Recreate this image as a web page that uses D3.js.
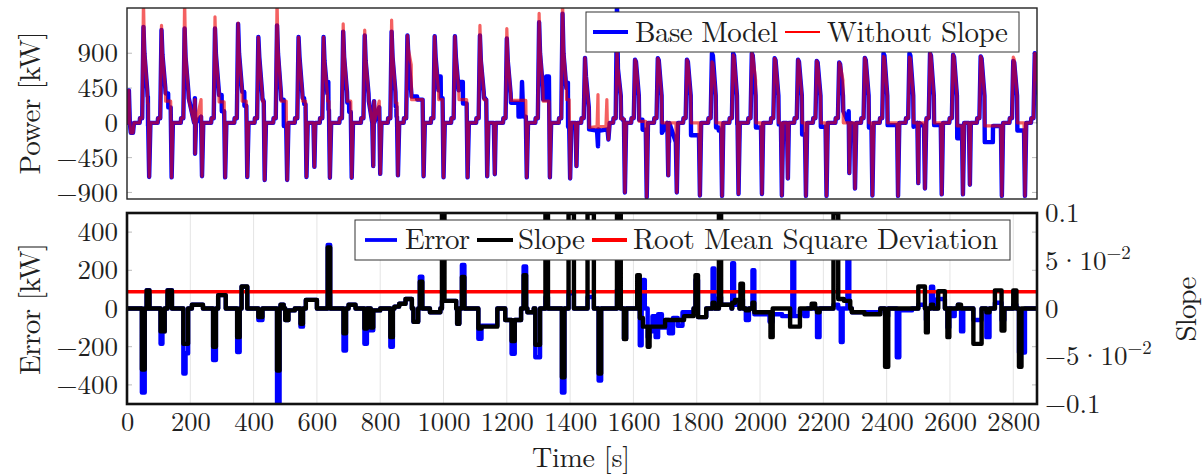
<!DOCTYPE html>
<html><head><meta charset="utf-8">
<script src="https://cdn.jsdelivr.net/npm/d3@7"></script>
<style>
body{margin:0;background:#fff}
svg{display:block}
text{font-family:"Latin Modern Roman","Liberation Serif",serif;fill:#1f1f1f}
</style>
</head><body>
<svg id="c" width="1203" height="474"></svg>
<script>
// ---------- data ----------
const timeTicks = [0,200,400,600,800,1000,1200,1400,1600,1800,2000,2200,2400,2600,2800];
const powerTicks = [-900,-450,0,450,900];
const errorTicks = [-400,-200,0,200,400];
const slopeTicks = [-0.1,-0.05,0,0.05,0.1];
// mantissa, base, exponent of each slope tick label
const slopeTickMantissa = ["\u22120.1","\u22125","0","5","0.1"];
const slopeTickBase = ["","10","","10",""];
const slopeTickExponent = ["","\u22122","","\u22122",""];

// one entry per drive cycle of the power trace
const peakTime = [52,109,182,278,351,415,474,542,621,683,751,836,886,972,1036,1115,1200,1302,1376,1447,1548,1605,1677,1769,1848,1915,1974,2046,2120,2179,2250,2331,2390,2472,2537,2610,2697,2800,2868];
const peakBase = [1240,1200,1220,1220,1280,1110,1260,1110,1110,1180,1130,1180,1130,1120,1120,1130,1090,1300,1410,840,1560,815,835,815,900,900,900,835,815,800,780,840,900,900,900,880,860,800,900];
const peakNoSlope = [1600,1260,1600,1370,1290,1110,1600,1110,1110,1280,1200,1330,1130,1120,1120,1260,1220,1415,1600,840,940,815,835,815,790,880,900,835,815,800,780,840,860,850,900,880,860,850,900];
const shoulderBase = [900,880,850,880,900,850,900,850,800,850,800,850,850,850,850,800,800,900,900,600,700,790,810,790,870,870,870,810,790,780,760,810,870,870,870,850,830,780,870];
const shoulderNoSlope = [950,900,900,900,900,850,950,850,800,900,850,900,950,850,850,850,850,950,950,600,700,790,810,790,770,850,870,810,790,780,760,810,840,830,870,850,830,820,870];
const tailBase = [420,450,400,420,450,380,400,380,380,400,380,400,400,420,420,400,380,450,450,200,350,350,350,350,350,350,350,350,350,350,350,350,350,350,350,350,350,350,350];
const tailNoSlope = [420,450,400,420,450,380,400,380,380,400,380,400,750,420,420,400,380,450,450,200,350,350,350,350,350,350,550,350,350,350,550,350,350,350,350,350,350,350,350];
const plateauBaseA = [340,380,320,360,400,300,300,320,530,260,280,210,340,600,530,320,260,300,520,-85,60,40,-130,-160,-60,-20,-60,-20,-150,-50,150,-60,-30,-50,-30,-200,-250,-100,0];
const plateauBaseB = [-40,200,80,150,220,280,-40,240,170,140,200,80,300,320,250,300,80,600,-50,-85,40,-90,-250,-160,-100,-20,-60,-20,-150,-50,-20,-60,-30,-50,-30,-40,-40,-100,0];
const plateauNoSlope = [250,280,300,270,280,280,280,280,280,280,280,260,300,300,300,300,290,280,300,-60,50,20,0,0,0,0,0,0,0,0,0,0,0,0,0,-40,-40,0,0];
const troughTime = [70,141,237,310,380,435,506,567,641,710,800,856,937,1000,1076,1138,1263,1336,1400,1521,1573,1642,1737,1810,1880,1932,2006,2069,2145,2210,2300,2355,2436,2521,2574,2641,2764,2837,2890];
const troughPower = [-700,-705,-690,-705,-700,-740,-740,-700,-710,-710,-660,-680,-690,-705,-705,-690,-705,-705,-720,-215,-900,-960,-900,-940,-945,-920,-920,-940,-945,-945,-850,-940,-945,-850,-925,-925,-945,-945,-900];
const preStepPower = 60;
const secondTroughTime = [215,592,778,1162,1420,1710,2088,2282,2500,2663];
const secondTroughPower = [-400,-570,-560,-665,-560,-680,-720,-650,-780,-800];
const extraBase = [[0,300],[3,0],[6,420],[9,0],[12,-130],[19,-130],[22,0],[1245,80],[1248,530],[1252,80],[1485,-100],[1488,-305],[1494,-100]];
const extraNoSlope = [[0,300],[3,0],[6,420],[9,0],[12,-130],[19,-130],[22,0],[1485,-50],[1488,365],[1492,-50],[1513,-50],[1516,300],[1519,-50]];

// error [kW] and slope, as steps [time, value]
const errorSteps = [[0,0],[47,-440],[56,0],[62,96],[71,0],[106,-185],[112,-120],[119,0],[128,96],[142,0],[178,-340],[185,-235],[193,0],[205,20],[240,0],[272,-270],[281,0],[288,70],[312,0],[348,-228],[356,0],[362,114],[380,0],[415,-60],[428,0],[474,-520],[482,0],[485,20],[495,0],[500,-60],[510,-10],[530,0],[548,-95],[556,0],[565,45],[600,0],[634,333],[642,0],[684,-220],[692,0],[700,20],[722,0],[750,-185],[758,0],[770,-114],[778,-10],[800,0],[832,-200],[840,0],[845,10],[860,25],[880,50],[900,0],[905,-70],[920,0],[925,167],[933,0],[957,-20],[990,0],[995,40],[1040,0],[1043,-80],[1050,0],[1058,228],[1066,0],[1110,-158],[1120,-90],[1170,0],[1195,-60],[1215,-237],[1225,-60],[1245,0],[1253,220],[1261,0],[1265,-20],[1285,0],[1290,-255],[1305,0],[1322,60],[1330,0],[1374,-440],[1382,0],[1395,80],[1412,0],[1455,60],[1475,0],[1490,-377],[1498,0],[1548,100],[1560,0],[1570,-158],[1577,0],[1612,100],[1620,-193],[1626,0],[1630,150],[1636,0],[1645,-150],[1651,-120],[1660,-40],[1670,-150],[1678,-30],[1690,-100],[1700,-60],[1712,-130],[1725,-50],[1740,-90],[1755,-20],[1790,0],[1796,150],[1804,-45],[1830,0],[1850,210],[1856,0],[1870,60],[1877,20],[1910,0],[1912,237],[1918,20],[1935,0],[1938,50],[1946,0],[1955,-60],[1965,0],[1976,200],[1982,-30],[2030,-70],[2040,-30],[2070,-40],[2102,260],[2108,-40],[2126,-10],[2140,-40],[2150,0],[2180,-150],[2188,0],[2232,20],[2247,0],[2255,-175],[2261,0],[2276,260],[2282,0],[2290,-20],[2380,0],[2395,-40],[2405,0],[2432,-255],[2440,-10],[2480,0],[2500,20],[2521,0],[2524,-60],[2530,0],[2540,114],[2547,0],[2560,50],[2584,0],[2592,-100],[2598,0],[2605,-40],[2615,0],[2625,20],[2630,0],[2635,-120],[2642,0],[2674,-60],[2700,0],[2715,-150],[2725,0],[2742,30],[2763,-60],[2772,0],[2800,20],[2810,0],[2818,-230],[2837,0],[2875,0]];
const slopeSteps = [[0,0],[47,-0.064],[56,0],[62,0.019],[71,0],[106,-0.024],[119,0],[128,0.019],[142,0],[178,-0.037],[193,0],[205,0.004],[240,0],[272,-0.04],[281,0],[288,0.014],[312,0],[348,-0.03],[356,0],[362,0.023],[380,0],[415,-0.009],[428,0],[474,-0.065],[482,0],[485,0.004],[495,0],[500,-0.012],[510,-0.002],[530,0],[548,-0.016],[556,0],[565,0.009],[600,0],[634,0.064],[642,0],[684,-0.026],[692,0],[700,0.004],[722,0],[750,-0.021],[758,0],[770,-0.02],[778,-0.002],[800,0],[832,-0.03],[840,0],[845,0.002],[860,0.005],[880,0.01],[900,0],[905,-0.014],[920,0],[925,0.028],[933,0],[957,-0.004],[990,0],[995,0.1],[1003,0.008],[1040,0],[1043,-0.016],[1050,0],[1058,0.033],[1066,0],[1110,-0.021],[1120,-0.019],[1170,0],[1195,-0.012],[1215,-0.034],[1225,-0.012],[1245,0],[1253,0.035],[1261,0],[1265,-0.004],[1285,0],[1290,-0.038],[1305,0],[1322,0.1],[1330,0],[1374,-0.072],[1382,0],[1395,0.1],[1412,0],[1455,0.1],[1475,0],[1490,-0.068],[1498,0],[1548,0.1],[1560,0],[1570,-0.032],[1577,0],[1612,0.035],[1620,-0.01],[1630,-0.019],[1645,-0.04],[1651,-0.019],[1700,-0.012],[1760,-0.008],[1790,0],[1796,0.035],[1804,-0.009],[1830,0],[1850,0.006],[1856,0],[1870,0.1],[1877,0.004],[1910,0],[1912,0.006],[1921,0.009],[1935,0],[1938,0.026],[1946,0],[1955,-0.002],[1965,0],[1976,0.006],[1982,-0.004],[2033,-0.03],[2040,0],[2095,-0.019],[2126,0],[2163,0.005],[2174,0],[2180,-0.004],[2188,0],[2232,0.1],[2247,0.01],[2265,0.008],[2285,0],[2290,-0.004],[2330,-0.006],[2380,0],[2395,-0.061],[2405,0],[2500,0.023],[2521,0],[2524,-0.025],[2530,0],[2540,0.004],[2547,0],[2563,0.018],[2584,0],[2592,-0.03],[2598,0],[2625,0.004],[2635,0],[2674,-0.037],[2700,0],[2715,-0.004],[2725,0],[2742,0.019],[2763,-0.023],[2772,0],[2800,0.019],[2810,0],[2818,-0.061],[2826,0],[2875,0]];
const rmsd = 88;

// ---------- layout ----------
const FONT = '"Latin Modern Roman","Liberation Serif",serif';
const svg = d3.select('#c');
const L = 127, R = 1037;
const T0 = 8, T1 = 199, B0 = 213, B1 = 404;
const x = d3.scaleLinear().domain([0,2875]).range([L,R]);
const yP = d3.scaleLinear().domain([-985,1485]).range([T1,T0]);
const yE = d3.scaleLinear().domain([-500,500]).range([B1,B0]);
const yS = d3.scaleLinear().domain([-0.1,0.1]).range([B1,B0]);

const defs = svg.append('defs');
defs.append('clipPath').attr('id','clipTop').append('rect').attr('x',L).attr('y',T0).attr('width',R-L).attr('height',T1-T0);
defs.append('clipPath').attr('id','clipBot').append('rect').attr('x',L).attr('y',B0).attr('width',R-L).attr('height',B1-B0);

// ---------- build power traces ----------
function buildPower(peak, shoulder, tail, platA, platB, extras){
  const pts = [];
  peakTime.forEach((tp,i)=>{
    const tt = troughTime[i];
    const mid = (tp+13+tt-3)/2;
    pts.push([tp-12,0],[tp-11,preStepPower],[tp-4,preStepPower],[tp,peak[i]],[tp+3,shoulder[i]],
             [tp+12,tail[i]],[tp+13,platA[i]],[mid,platA[i]],[mid+0.5,platB[i]],[tt-3,platB[i]],
             [tt,troughPower[i]],[tt+4,0]);
  });
  secondTroughTime.forEach((t,i)=>pts.push([t-3,0],[t,secondTroughPower[i]],[t+3,0]));
  extras.forEach(p=>pts.push(p));
  return pts.map((p,i)=>({p,i})).sort((a,b)=>a.p[0]-b.p[0]||a.i-b.i).map(d=>d.p);
}
const baseSeries = buildPower(peakBase, shoulderBase, tailBase, plateauBaseA, plateauBaseB, extraBase);
const noSlopeSeries = buildPower(peakNoSlope, shoulderNoSlope, tailNoSlope, plateauNoSlope, plateauNoSlope, extraNoSlope);

function styleTickText(sel, size){
  sel.selectAll('text').attr('font-size',size).attr('fill','#1f1f1f').style('font-family',FONT);
}

// ---------- top panel ----------
const gTop = svg.append('g');
powerTicks.forEach(v=>{
  gTop.append('line').attr('x1',L).attr('x2',L+5).attr('y1',yP(v)).attr('y2',yP(v)).attr('stroke','#bbb');
  gTop.append('line').attr('x1',R-5).attr('x2',R).attr('y1',yP(v)).attr('y2',yP(v)).attr('stroke','#bbb');
});
const lineP = d3.line().x(d=>x(d[0])).y(d=>yP(d[1]));
const plotTop = gTop.append('g').attr('clip-path','url(#clipTop)');
plotTop.append('path').datum(baseSeries).attr('d',lineP).attr('fill','none')
  .attr('stroke','#0000ff').attr('stroke-width',4.4).attr('stroke-linejoin','round').attr('stroke-linecap','round');
plotTop.append('path').datum(noSlopeSeries).attr('d',lineP).attr('fill','none')
  .attr('stroke','#ee0000').attr('stroke-width',3.2).attr('stroke-opacity',0.62).attr('stroke-linejoin','round').attr('stroke-linecap','round');
gTop.append('rect').attr('x',L).attr('y',T0).attr('width',R-L).attr('height',T1-T0)
  .attr('fill','none').attr('stroke','#222').attr('stroke-width',1.4);

const axP = d3.axisLeft(yP).tickValues(powerTicks).tickSize(0).tickPadding(9);
gTop.append('g').attr('transform',`translate(${L},0)`).call(axP)
  .call(g=>g.select('.domain').remove())
  .call(g=>styleTickText(g,27));

// legend (top)
const lgT = gTop.append('g');
lgT.append('rect').attr('x',586).attr('y',12).attr('width',433).attr('height',40).attr('fill','#fff').attr('stroke','#333').attr('stroke-width',1);
lgT.append('line').attr('x1',593).attr('x2',628).attr('y1',32).attr('y2',32).attr('stroke','#0000ff').attr('stroke-width',3.8);
lgT.append('text').attr('x',635).attr('y',41.5).attr('font-size',29).attr('textLength',143).text('Base Model');
lgT.append('line').attr('x1',785).attr('x2',820).attr('y1',32).attr('y2',32).attr('stroke','#ff0000').attr('stroke-width',2.2);
lgT.append('text').attr('x',827).attr('y',41.5).attr('font-size',29).attr('textLength',181).text('Without Slope');

// ---------- bottom panel ----------
const gBot = svg.append('g');
timeTicks.forEach(t=>{
  if(t>0) gBot.append('line').attr('x1',x(t)).attr('x2',x(t)).attr('y1',B0).attr('y2',B1).attr('stroke','#e4e4e4').attr('stroke-width',1);
});
errorTicks.forEach(v=>{
  gBot.append('line').attr('x1',L).attr('x2',L+5).attr('y1',yE(v)).attr('y2',yE(v)).attr('stroke','#bbb');
  gBot.append('line').attr('x1',R-5).attr('x2',R).attr('y1',yE(v)).attr('y2',yE(v)).attr('stroke','#bbb');
});
const plotBot = gBot.append('g').attr('clip-path','url(#clipBot)');
const lineE = d3.line().curve(d3.curveStepAfter).x(d=>x(d[0])).y(d=>yE(d[1]));
const lineS = d3.line().curve(d3.curveStepAfter).x(d=>x(d[0])).y(d=>yS(d[1]));
plotBot.append('path').datum(errorSteps).attr('d',lineE).attr('fill','none')
  .attr('stroke','#0000ff').attr('stroke-width',4.4).attr('stroke-linejoin','round');
plotBot.append('line').attr('x1',x(0)).attr('x2',x(2875)).attr('y1',yE(rmsd)).attr('y2',yE(rmsd))
  .attr('stroke','#ff0000').attr('stroke-width',3.6);
plotBot.append('path').datum(slopeSteps).attr('d',lineS).attr('fill','none')
  .attr('stroke','#000').attr('stroke-width',4.4).attr('stroke-linejoin','round');
gBot.append('rect').attr('x',L).attr('y',B0).attr('width',R-L).attr('height',B1-B0)
  .attr('fill','none').attr('stroke','#111').attr('stroke-width',2.6);

const axE = d3.axisLeft(yE).tickValues(errorTicks).tickSize(0).tickPadding(9);
gBot.append('g').attr('transform',`translate(${L},0)`).call(axE)
  .call(g=>g.select('.domain').remove())
  .call(g=>styleTickText(g,27));
const axX = d3.axisBottom(x).tickValues(timeTicks).tickSize(0).tickPadding(8).tickFormat(d3.format('d'));
gBot.append('g').attr('transform',`translate(0,${B1})`).call(axX)
  .call(g=>g.select('.domain').remove())
  .call(g=>styleTickText(g,26.5));

// right slope axis labels
slopeTicks.forEach((v,i)=>{
  const t = gBot.append('text').attr('x',1045).attr('y',yS(v)+9).attr('font-size',27).style('font-family',FONT);
  t.append('tspan').text(slopeTickMantissa[i]);
  if(slopeTickBase[i]){
    t.append('tspan').text('\u00b7');
    t.append('tspan').text(slopeTickBase[i]);
    t.append('tspan').attr('dy',-11).attr('font-size',19).text(slopeTickExponent[i]);
  }
});

// legend (bottom)
const lgB = gBot.append('g');
lgB.append('rect').attr('x',355).attr('y',220).attr('width',655).attr('height',40).attr('fill','#fff').attr('stroke','#333').attr('stroke-width',1);
lgB.append('line').attr('x1',365).attr('x2',397).attr('y1',240).attr('y2',240).attr('stroke','#0000ff').attr('stroke-width',3.8);
lgB.append('text').attr('x',405).attr('y',248.5).attr('font-size',29).attr('textLength',65).text('Error');
lgB.append('line').attr('x1',477).attr('x2',513).attr('y1',240).attr('y2',240).attr('stroke','#000').attr('stroke-width',3.8);
lgB.append('text').attr('x',518).attr('y',248.5).attr('font-size',29).attr('textLength',67).text('Slope');
lgB.append('line').attr('x1',592).attr('x2',627).attr('y1',240).attr('y2',240).attr('stroke','#ff0000').attr('stroke-width',3.8);
lgB.append('text').attr('x',633).attr('y',248.5).attr('font-size',29).attr('textLength',365).text('Root Mean Square Deviation');

// axis titles
svg.append('text').attr('transform','translate(27,103) rotate(-90)').attr('text-anchor','middle').attr('dominant-baseline','central').attr('font-size',29).attr('textLength',143).text('Power [kW]');
svg.append('text').attr('transform','translate(27,309) rotate(-90)').attr('text-anchor','middle').attr('dominant-baseline','central').attr('font-size',29).attr('textLength',132).text('Error [kW]');
svg.append('text').attr('transform','translate(1183,309) rotate(-90)').attr('text-anchor','middle').attr('dominant-baseline','central').attr('font-size',29).attr('textLength',65).text('Slope');
svg.append('text').attr('x',581).attr('y',467).attr('text-anchor','middle').attr('font-size',28).attr('textLength',98).text('Time [s]');
</script>
</body></html>
